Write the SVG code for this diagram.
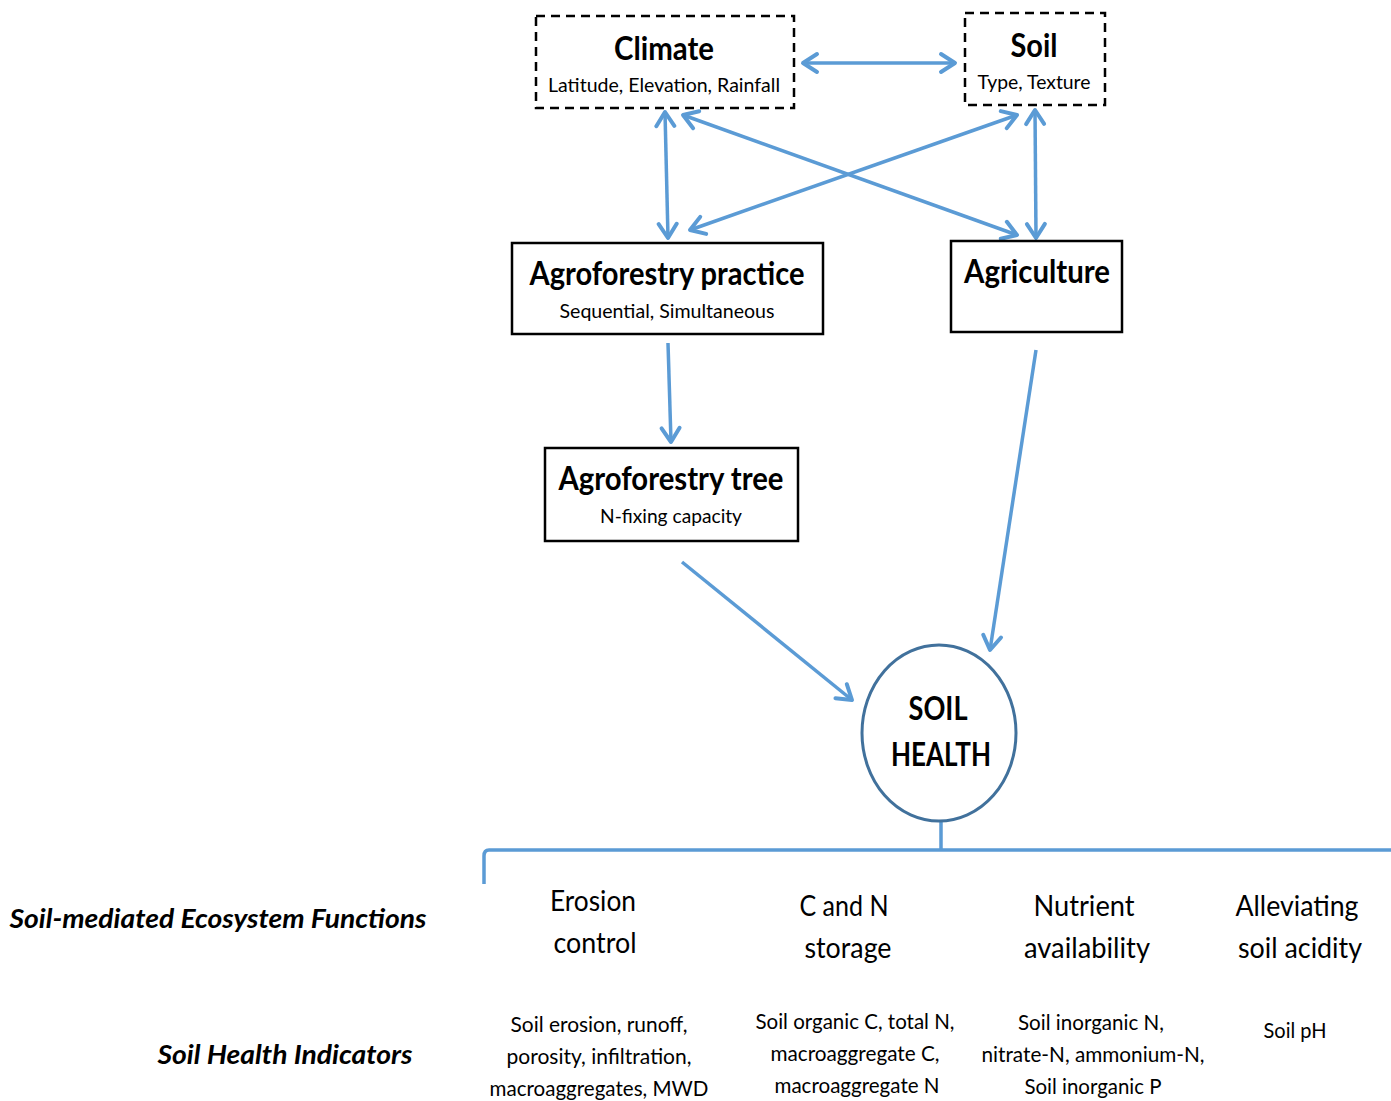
<svg xmlns="http://www.w3.org/2000/svg" width="1391" height="1101" viewBox="0 0 1391 1101">
<defs>
<marker id="ah" markerUnits="userSpaceOnUse" markerWidth="24" markerHeight="24" viewBox="0 0 24 24" refX="18" refY="12" orient="auto-start-reverse">
<path d="M4,3 L18,12 L4,21" fill="none" stroke="#5B9BD5" stroke-width="4" stroke-linecap="round" stroke-linejoin="round"/>
</marker>
<style>
text{font-family:Lato,"Open Sans","DejaVu Sans",sans-serif;fill:#000;text-anchor:middle}
.t{font-weight:bold;font-size:32px}
.s{font-size:20px}
.f{font-size:28px}
.i{font-size:20.5px}
.h{font-weight:bold;font-style:italic;font-size:27px}
.box{fill:#fff;stroke:#000;stroke-width:2.5}
.dash{fill:#fff;stroke:#000;stroke-width:2.5;stroke-dasharray:9 6}
.c{fill:none;stroke:#5B9BD5;stroke-width:3.5}
.a{fill:none;stroke:#5B9BD5;stroke-width:3.5;marker-end:url(#ah)}
.aa{fill:none;stroke:#5B9BD5;stroke-width:3.5;marker-end:url(#ah);marker-start:url(#ah)}
</style>
</defs>
<rect width="1391" height="1101" fill="#fff"/>
<g id="connectors">
<line class="aa" x1="803" y1="63" x2="955" y2="63"/>
<line class="aa" x1="665" y1="112" x2="668" y2="238"/>
<line class="aa" x1="683" y1="115" x2="1017" y2="235"/>
<line class="aa" x1="1017" y1="115" x2="690" y2="230"/>
<line class="aa" x1="1035" y1="110" x2="1036" y2="238"/>
<line class="a" x1="668" y1="343" x2="671" y2="442"/>
<line class="a" x1="682" y1="562" x2="852" y2="700"/>
<line class="a" x1="1036" y1="350" x2="990" y2="650"/>
<path class="c" d="M941,822 L941,850 M1391,850 L489,850 Q484,850 484,856 L484,884"/>
</g>
<g id="climate">
<rect class="dash" x="536" y="16" width="258" height="92"/>
<text class="t" x="664" y="60" textLength="100" lengthAdjust="spacingAndGlyphs">Climate</text>
<text class="s" x="664" y="92" textLength="232" lengthAdjust="spacingAndGlyphs">Latitude, Elevation, Rainfall</text>
</g>
<g id="soil">
<rect class="dash" x="965" y="13" width="140" height="92"/>
<text class="t" x="1034" y="57" textLength="47" lengthAdjust="spacingAndGlyphs">Soil</text>
<text class="s" x="1034" y="89" textLength="113" lengthAdjust="spacingAndGlyphs">Type, Texture</text>
</g>
<g id="agroforestry-practice">
<rect class="box" x="512" y="243" width="311" height="91"/>
<text class="t" x="667" y="285" textLength="275" lengthAdjust="spacingAndGlyphs">Agroforestry practice</text>
<text class="s" x="667" y="318" textLength="215" lengthAdjust="spacingAndGlyphs">Sequential, Simultaneous</text>
</g>
<g id="agriculture">
<rect class="box" x="951" y="241" width="171" height="91"/>
<text class="t" x="1037" y="283" textLength="146" lengthAdjust="spacingAndGlyphs">Agriculture</text>
</g>
<g id="agroforestry-tree">
<rect class="box" x="545" y="448" width="253" height="93"/>
<text class="t" x="671" y="490" textLength="225" lengthAdjust="spacingAndGlyphs">Agroforestry tree</text>
<text class="s" x="671" y="523" textLength="142" lengthAdjust="spacingAndGlyphs">N-fixing capacity</text>
</g>
<g id="soil-health">
<ellipse cx="939" cy="733" rx="77" ry="88" fill="#fff" stroke="#41719C" stroke-width="3"/>
<text class="t" x="938" y="720" textLength="59" lengthAdjust="spacingAndGlyphs">SOIL</text>
<text class="t" x="941" y="766" textLength="100" lengthAdjust="spacingAndGlyphs">HEALTH</text>
</g>
<g id="row-labels">
<text class="h" x="218" y="928" textLength="417" lengthAdjust="spacingAndGlyphs">Soil-mediated Ecosystem Functions</text>
<text class="h" x="285" y="1064" textLength="255" lengthAdjust="spacingAndGlyphs">Soil Health Indicators</text>
</g>
<g id="erosion">
<text class="f" x="593" y="911" textLength="86" lengthAdjust="spacingAndGlyphs">Erosion</text>
<text class="f" x="595" y="953" textLength="83" lengthAdjust="spacingAndGlyphs">control</text>
<text class="i" x="599" y="1032" textLength="177" lengthAdjust="spacingAndGlyphs">Soil erosion, runoff,</text>
<text class="i" x="599" y="1064" textLength="185" lengthAdjust="spacingAndGlyphs">porosity, infiltration,</text>
<text class="i" x="599" y="1096" textLength="219" lengthAdjust="spacingAndGlyphs">macroaggregates, MWD</text>
</g>
<g id="cn-storage">
<text class="f" x="844" y="916" textLength="89" lengthAdjust="spacingAndGlyphs">C and N</text>
<text class="f" x="848" y="958" textLength="87" lengthAdjust="spacingAndGlyphs">storage</text>
<text class="i" x="855" y="1029" textLength="199" lengthAdjust="spacingAndGlyphs">Soil organic C, total N,</text>
<text class="i" x="855" y="1061" textLength="169" lengthAdjust="spacingAndGlyphs">macroaggregate C,</text>
<text class="i" x="857" y="1093" textLength="165" lengthAdjust="spacingAndGlyphs">macroaggregate N</text>
</g>
<g id="nutrient">
<text class="f" x="1084" y="916" textLength="101" lengthAdjust="spacingAndGlyphs">Nutrient</text>
<text class="f" x="1087" y="958" textLength="126" lengthAdjust="spacingAndGlyphs">availability</text>
<text class="i" x="1091" y="1030" textLength="146" lengthAdjust="spacingAndGlyphs">Soil inorganic N,</text>
<text class="i" x="1093" y="1062" textLength="223" lengthAdjust="spacingAndGlyphs">nitrate-N, ammonium-N,</text>
<text class="i" x="1093" y="1094" textLength="137" lengthAdjust="spacingAndGlyphs">Soil inorganic P</text>
</g>
<g id="acidity">
<text class="f" x="1297" y="916" textLength="123" lengthAdjust="spacingAndGlyphs">Alleviating</text>
<text class="f" x="1300" y="958" textLength="124" lengthAdjust="spacingAndGlyphs">soil acidity</text>
<text class="i" x="1295" y="1038" textLength="63" lengthAdjust="spacingAndGlyphs">Soil pH</text>
</g>
</svg>
